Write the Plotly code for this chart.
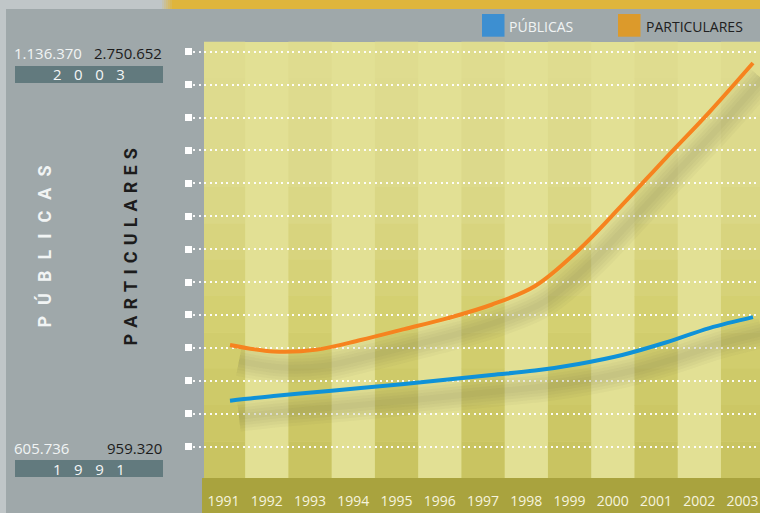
import plotly.graph_objects as go

# ---------------- data ----------------
years = list(range(1991, 2004))
year_labels = [str(y) for y in years]
publicas = [605736, 636000, 661000, 686000, 712000, 740000, 769000,
            797000, 839000, 896000, 975000, 1067000, 1136370]
particulares = [959320, 918000, 930000, 991000, 1060000, 1130000, 1215000,
                1334000, 1563000, 1849000, 2147000, 2439000, 2750652]
series_names = ["PÚBLICAS", "PARTICULARES"]
first_year_label = "1 9 9 1"
last_year_label = "2 0 0 3"

# ---------------- style ----------------
W, H = 760, 513
L, R, T, B = 193, 0, 42, 35
PW, PH = W - L - R, H - T - B
FONT = "Open Sans"
line_colors = ["#0f92d8", "#f6831f"]
legend_colors = ["#3d8fd1", "#dc9a2b"]
name_colors = ["#f1f4f4", "#1c1c1c"]
GRAY = "#9fa8aa"


def px_x(p):
    return (p - L) / PW


def px_y(p):
    return (H - B - p) / PH


def fmt(v):
    return f"{v:,}".replace(",", ".")


def hexmix(c1, c2, t):
    a = [int(c1[i:i + 2], 16) for i in (1, 3, 5)]
    b = [int(c2[i:i + 2], 16) for i in (1, 3, 5)]
    return "#" + "".join(f"{round(a[k] + (b[k] - a[k]) * t):02x}" for k in range(3))


fig = go.Figure()

# soft shadows (main x/y axes, with shifted ranges)
for vals in (publicas, particulares):
    for w in (30, 24, 18, 12, 6):
        fig.add_trace(go.Scatter(
            x=years, y=vals, mode="lines", xaxis="x", yaxis="y",
            line=dict(color="rgba(100,96,60,0.045)", width=w, shape="spline"),
            hoverinfo="skip", showlegend=False))

# real lines
for vals, name, col in zip((publicas, particulares), series_names, line_colors):
    fig.add_trace(go.Scatter(
        x=years, y=vals, mode="lines", name=name, xaxis="x3", yaxis="y3",
        line=dict(color=col, width=4, shape="spline"), showlegend=False))

# axis ranges (layout only)
line_x_range = [1990.151, 2003.161]
shift_x = 9 / 43.58
px_per_unit = 6352
data_y_range = [114504, 2883976]
shift_y = 16 * px_per_unit
col_range = [1990.295, 2003.402]
grid_step = 32.9 * px_per_unit
grid_start = 959320 - 101.5 * px_per_unit

shapes = []
# left light strip and top band
shapes.append(dict(type="rect", xref="paper", yref="paper", x0=px_x(0), x1=px_x(6),
                   y0=px_y(H), y1=px_y(0), fillcolor="#c0c6c8", line_width=0, layer="below"))
shapes.append(dict(type="rect", xref="paper", yref="paper", x0=px_x(0), x1=px_x(162),
                   y0=px_y(9), y1=px_y(0), fillcolor="#c0c6c8", line_width=0, layer="below"))
for i, p in enumerate(range(162, 172, 2)):
    shapes.append(dict(type="rect", xref="paper", yref="paper", x0=px_x(p), x1=px_x(p + 2),
                       y0=px_y(9), y1=px_y(0), fillcolor=hexmix("#c0c6c8", "#dfb53c", (i + 1) / 6),
                       line_width=0, layer="below"))
shapes.append(dict(type="rect", xref="paper", yref="paper", x0=px_x(172), x1=px_x(W),
                   y0=px_y(9), y1=px_y(0), fillcolor="#dfb53c", line_width=0, layer="below"))

# yellow plot area base (light stripes colour)
shapes.append(dict(type="rect", xref="paper", yref="paper", x0=px_x(204), x1=1,
                   y0=0, y1=1, fillcolor="#e2e094", line_width=0, layer="below"))
# dark stripes with vertical gradient
grad = [(42, "#dfdd90"), (170, "#dcd98b"), (310, "#d4d072"), (478, "#c8c35f")]
nb = 12
left_edge = col_range[0] + (204 - L) / PW * (col_range[1] - col_range[0])
for k, yr in enumerate(years):
    if k % 2:
        continue
    x0 = max(yr - 0.5, left_edge)
    x1 = yr + 0.5
    for b in range(nb):
        ytop = 42 + (478 - 42) * b / nb
        ybot = 42 + (478 - 42) * (b + 1) / nb
        ym = (ytop + ybot) / 2
        col = grad[-1][1]
        for j in range(len(grad) - 1):
            if grad[j][0] <= ym <= grad[j + 1][0]:
                t = (ym - grad[j][0]) / (grad[j + 1][0] - grad[j][0])
                col = hexmix(grad[j][1], grad[j + 1][1], t)
        shapes.append(dict(type="rect", xref="x2", yref="paper", x0=x0, x1=x1,
                           y0=px_y(ybot), y1=px_y(ytop) + 0.0005, fillcolor=col,
                           line_width=0, layer="below"))
# bottom olive band
shapes.append(dict(type="rect", xref="paper", yref="paper", x0=px_x(202), x1=1,
                   y0=px_y(H), y1=0, fillcolor="#a9a33e", line_width=0, layer="below"))
# year bars on the left
for top in (66, 460):
    shapes.append(dict(type="rect", xref="paper", yref="paper", x0=px_x(15), x1=px_x(163),
                       y0=px_y(top + 17), y1=px_y(top), fillcolor="#627a7e", line_width=0))
# legend squares
for x0, col in zip((482, 618), legend_colors):
    shapes.append(dict(type="rect", xref="paper", yref="paper", x0=px_x(x0), x1=px_x(x0 + 22.5),
                       y0=px_y(36.7), y1=px_y(14), fillcolor=col, line_width=0))

ann = []


def add_text(text, x, y, xanchor, color, size=15, family=FONT, angle=0, bold=False):
    ann.append(dict(text=(f"<b>{text}</b>" if bold else text), x=px_x(x), y=px_y(y),
                    xref="paper", yref="paper", xanchor=xanchor, yanchor="middle",
                    showarrow=False, textangle=angle,
                    font=dict(family=family, size=size, color=color)))


sp_year = "\u2002\u2004"
add_text(fmt(publicas[-1]), 12, 53, "left", name_colors[0])
add_text(fmt(particulares[-1]), 164, 53, "right", name_colors[1])
add_text(sp_year.join(last_year_label.split(" ")), 89, 74.5, "center", "#f4f6f6")
add_text(fmt(publicas[0]), 12, 448, "left", name_colors[0])
add_text(fmt(particulares[0]), 164, 448, "right", name_colors[1])
add_text(sp_year.join(first_year_label.split(" ")), 89, 468.5, "center", "#f4f6f6")
# vertical titles
add_text("\u2002\u200a".join(series_names[0]), 43.5, 247, "center", name_colors[0],
         size=18, family="Roboto", angle=-90, bold=True)
add_text("\u2004".join(series_names[1]), 130, 247.5, "center", name_colors[1],
         size=18, family="Roboto", angle=-90, bold=True)
# legend labels
add_text(series_names[0], 507, 26, "left", name_colors[0], size=14)
add_text(series_names[1], 643.5, 26, "left", "#202020", size=14)

fig.update_layout(
    width=W, height=H, autosize=False,
    margin=dict(l=L, r=R, t=T, b=B, pad=0),
    paper_bgcolor=GRAY, plot_bgcolor=GRAY,
    showlegend=False,
    shapes=shapes, annotations=ann,
    xaxis=dict(range=[line_x_range[0] - shift_x, line_x_range[1] - shift_x],
               visible=False, fixedrange=True),
    yaxis=dict(range=[data_y_range[0] + shift_y, data_y_range[1] + shift_y],
               visible=False, fixedrange=True),
    xaxis2=dict(overlaying="x", anchor="y", side="bottom", range=col_range,
                tickmode="array", tickvals=years, ticktext=year_labels,
                showgrid=False, zeroline=False, showline=False,
                ticks="outside", ticklen=10, tickcolor="rgba(0,0,0,0)",
                tickfont=dict(family=FONT, size=14, color="#f6f4de")),
    xaxis3=dict(overlaying="x", anchor="y", range=line_x_range, visible=False),
    yaxis3=dict(overlaying="y", anchor="x", side="left", range=data_y_range,
                tickmode="linear", tick0=grid_start, dtick=grid_step,
                showticklabels=False, zeroline=False, showline=False,
                ticks="outside", ticklen=7, tickwidth=7, tickcolor="white",
                showgrid=True, gridcolor="rgba(255,255,255,0.92)", gridwidth=2,
                griddash="2px,3.5px"),
)

fig.write_html("out.html", config={"displayModeBar": False},
               post_script="document.body.style.margin='0';document.body.style.overflow='hidden';")
